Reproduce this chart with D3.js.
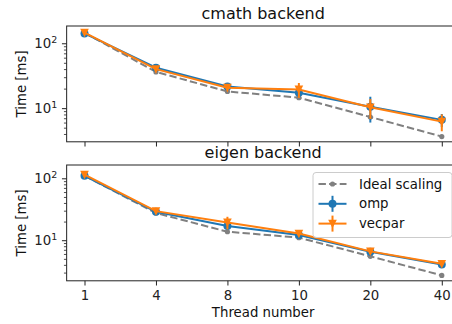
<!DOCTYPE html>
<html>
<head>
<meta charset="utf-8">
<script src="https://cdn.jsdelivr.net/npm/d3@7"></script>
<style>
  body { margin: 0; background: #fff; }
  svg { display: block; font-family: "DejaVu Sans", sans-serif; }
</style>
</head>
<body>
<div id="chart"></div>
<script>
// données
const threads = ["1", "4", "8", "10", "20", "40"];

const cmathIdeal = [145, 36.2, 18.1, 14.5, 7.3, 3.65];
const cmathOmp = [142, 42, 21.5, 17.3, 10.5, 6.6];
const cmathOmpErr = [4, 2.5, 1.2, 2, 4.5, 1.5];
const cmathVecpar = [146, 40, 20.7, 19.4, 10.3, 6.2];
const cmathVecparErr = [5, 3, 1.5, 5, 3.5, 1.8];

const eigenIdeal = [110, 27.5, 13.7, 11, 5.5, 2.7];
const eigenOmp = [110, 28.8, 17, 12.1, 6.5, 4.05];
const eigenOmpErr = [3, 1, 1.2, 0.8, 0.5, 0.2];
const eigenVecpar = [115, 29.5, 19.4, 12.8, 6.6, 4.15];
const eigenVecparErr = [4, 1.5, 4.5, 1.2, 0.6, 0.3];

const cmathDomain = [3.03, 184.6];
const eigenDomain = [2.21, 164];

const titles = ["cmath backend", "eigen backend"];
const legendLabels = ["Ideal scaling", "omp", "vecpar"];

//---------------------------------------------------------------------------------------

const W = 452, H = 324;
const left = 66.65, plotW = 393;
const plotH = 115.8;
const tops = [26, 165];

const colOmp = "#1f77b4", colVec = "#ff7f0e", colIdeal = "#808080";

const svg = d3.select("#chart").append("svg")
    .attr("width", W).attr("height", H);

const scaleX = d3.scalePoint()
    .domain(threads)
    .range([0, plotW])
    .padding(0.25);

const panels = [
    { ideal: cmathIdeal, omp: cmathOmp, ompErr: cmathOmpErr, vec: cmathVecpar, vecErr: cmathVecparErr, domain: cmathDomain },
    { ideal: eigenIdeal, omp: eigenOmp, ompErr: eigenOmpErr, vec: eigenVecpar, vecErr: eigenVecparErr, domain: eigenDomain }
];

// triangle pointe vers le bas
const triDown = r => `M${-r},${-r * 0.9}L${r},${-r * 0.9}L0,${r * 1.1}Z`;

panels.forEach((p, k) => {
    const g = svg.append("g").attr("transform", `translate(${left},${tops[k]})`);

    const scaleY = d3.scaleLog().domain(p.domain).range([plotH, 0]);

    // ticks mineurs
    const minors = [];
    for (let e = 0; e < 3; e++) for (let m = 2; m <= 9; m++) {
        const v = m * Math.pow(10, e);
        if (v >= p.domain[0] && v <= p.domain[1]) minors.push(v);
    }
    g.append("g")
        .call(d3.axisLeft(scaleY).tickValues(minors).tickSize(2.7).tickFormat(""))
        .call(a => a.select(".domain").remove())
        .call(a => a.selectAll(".tick line").attr("stroke-width", 0.8).attr("stroke", "#222"));

    // ticks majeurs
    const yAx = g.append("g")
        .call(d3.axisLeft(scaleY).tickValues([10, 100]).tickSize(4.7).tickPadding(4.7).tickFormat(""))
        .call(a => a.select(".domain").remove())
        .call(a => a.selectAll(".tick line").attr("stroke-width", 1).attr("stroke", "#222"));
    yAx.selectAll(".tick text")
        .attr("font-size", 13.3).attr("fill", "#222").attr("font-family", "DejaVu Sans")
        .each(function (d) {
            const t = d3.select(this);
            t.append("tspan").text("10");
            t.append("tspan").text(Math.round(Math.log10(d)))
                .attr("font-size", 9.5).attr("dy", "-0.5em");
        });

    // axe X
    const xAx = g.append("g")
        .attr("transform", `translate(0,${plotH})`)
        .call(d3.axisBottom(scaleX).tickSize(4.7).tickPadding(4.7))
        .call(a => a.select(".domain").remove())
        .call(a => a.selectAll(".tick line").attr("stroke-width", 1).attr("stroke", "#222"));
    xAx.selectAll(".tick text")
        .attr("font-size", 13.3).attr("fill", "#222").attr("font-family", "DejaVu Sans");
    if (k === 0) xAx.selectAll(".tick text").remove();

    // cadre
    g.append("rect")
        .attr("width", plotW).attr("height", plotH)
        .attr("fill", "none").attr("stroke", "#222").attr("stroke-width", 1);

    // titre
    g.append("text")
        .attr("x", plotW / 2).attr("y", -7)
        .attr("text-anchor", "middle")
        .attr("font-size", 16).attr("fill", "#111")
        .text(titles[k]);

    // label Y
    svg.append("text")
        .attr("transform", `translate(26,${tops[k] + plotH / 2}) rotate(-90)`)
        .attr("text-anchor", "middle")
        .attr("font-size", 13.3).attr("fill", "#111")
        .text("Time [ms]");

    const plot = g.append("g");

    const line = d3.line().x((d, i) => scaleX(threads[i])).y(d => scaleY(d));

    // Ideal scaling
    plot.append("path")
        .attr("d", line(p.ideal))
        .attr("fill", "none").attr("stroke", colIdeal)
        .attr("stroke-width", 2).attr("stroke-dasharray", "7.4,3.2");
    plot.selectAll(".ideal").data(p.ideal).join("circle")
        .attr("class", "ideal")
        .attr("cx", (d, i) => scaleX(threads[i])).attr("cy", d => scaleY(d))
        .attr("r", 2.6).attr("fill", colIdeal);

    // séries avec barres d'erreur
    const series = [
        { vals: p.omp, err: p.ompErr, col: colOmp, mark: "circle" },
        { vals: p.vec, err: p.vecErr, col: colVec, mark: "tri" }
    ];
    series.forEach(s => {
        plot.append("path")
            .attr("d", line(s.vals))
            .attr("fill", "none").attr("stroke", s.col).attr("stroke-width", 2);
        plot.selectAll(null).data(s.vals).join("line")
            .attr("x1", (d, i) => scaleX(threads[i])).attr("x2", (d, i) => scaleX(threads[i]))
            .attr("y1", (d, i) => scaleY(d + s.err[i])).attr("y2", (d, i) => scaleY(Math.max(d - s.err[i], 0.01)))
            .attr("stroke", s.col).attr("stroke-width", 2);
        if (s.mark === "circle") {
            plot.selectAll(null).data(s.vals).join("circle")
                .attr("cx", (d, i) => scaleX(threads[i])).attr("cy", d => scaleY(d))
                .attr("r", 4).attr("fill", s.col);
        } else {
            plot.selectAll(null).data(s.vals).join("path")
                .attr("transform", (d, i) => `translate(${scaleX(threads[i])},${scaleY(d)})`)
                .attr("d", triDown(4.3)).attr("fill", s.col);
        }
    });
});

// titre axe X
svg.append("text")
    .attr("x", left + plotW / 2).attr("y", 317)
    .attr("text-anchor", "middle")
    .attr("font-size", 13.3).attr("fill", "#111")
    .text("Thread number");

//---------------------------------------------------------------------------------------

// Légende
const lg = svg.append("g").attr("transform", "translate(313,172.5)");
lg.append("rect")
    .attr("width", 139).attr("height", 65).attr("rx", 3)
    .attr("fill", "#fff").attr("fill-opacity", 0.8)
    .attr("stroke", "#ccc").attr("stroke-width", 1);

const legendRows = [
    { label: legendLabels[0], col: colIdeal, type: "ideal" },
    { label: legendLabels[1], col: colOmp, type: "circle" },
    { label: legendLabels[2], col: colVec, type: "tri" }
];
const rows = lg.selectAll(".row").data(legendRows).join("g")
    .attr("class", "row")
    .attr("transform", (d, i) => `translate(0,${11.5 + i * 19.8})`);

rows.append("line")
    .attr("x1", 5.5).attr("x2", 33.5)
    .attr("stroke", d => d.col).attr("stroke-width", 2)
    .attr("stroke-dasharray", d => d.type === "ideal" ? "7.4,3.2" : null);
rows.filter(d => d.type !== "ideal").append("line")
    .attr("x1", 19.5).attr("x2", 19.5).attr("y1", -8).attr("y2", 8)
    .attr("stroke", d => d.col).attr("stroke-width", 2);
rows.filter(d => d.type === "ideal").append("circle")
    .attr("cx", 19.5).attr("r", 2.6).attr("fill", d => d.col);
rows.filter(d => d.type === "circle").append("circle")
    .attr("cx", 19.5).attr("r", 4).attr("fill", d => d.col);
rows.filter(d => d.type === "tri").append("path")
    .attr("transform", "translate(19.5,0)")
    .attr("d", triDown(4.3)).attr("fill", d => d.col);
rows.append("text")
    .attr("x", 46).attr("dy", "0.35em")
    .attr("font-size", 13.3).attr("fill", "#111")
    .text(d => d.label);
</script>
</body>
</html>
